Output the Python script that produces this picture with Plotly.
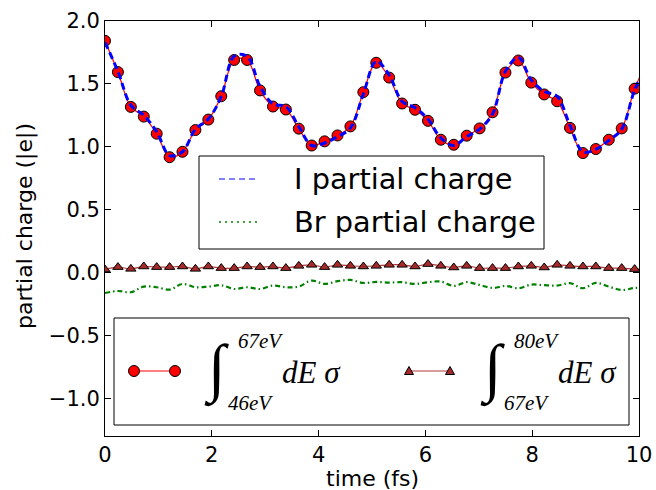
import plotly.graph_objects as go

# ---------------- data ----------------
time_fs = [0.000, 0.242, 0.484, 0.726, 0.968, 1.210, 1.451, 1.693, 1.935, 2.177,
           2.419, 2.661, 2.903, 3.145, 3.387, 3.629, 3.870, 4.112, 4.354, 4.596,
           4.838, 5.080, 5.322, 5.564, 5.806, 6.048, 6.289, 6.531, 6.773, 7.015,
           7.257, 7.499, 7.741, 7.983, 8.225, 8.467, 8.708, 8.950, 9.192, 9.434,
           9.676, 9.918, 10.160]

sigma_46_67 = [1.842, 1.594, 1.317, 1.240, 1.104, 0.917, 0.960, 1.133, 1.216, 1.402,
               1.690, 1.690, 1.448, 1.320, 1.296, 1.144, 1.010, 1.043, 1.090, 1.162,
               1.434, 1.668, 1.550, 1.344, 1.294, 1.206, 1.056, 1.016, 1.088, 1.146,
               1.274, 1.590, 1.686, 1.510, 1.416, 1.362, 1.150, 0.950, 0.982, 1.056,
               1.146, 1.462, 1.680]

i_partial = [1.830, 1.600, 1.330, 1.250, 1.120, 0.930, 0.960, 1.140, 1.220, 1.400,
             1.720, 1.720, 1.480, 1.340, 1.320, 1.160, 1.010, 1.030, 1.080, 1.150,
             1.420, 1.680, 1.570, 1.360, 1.310, 1.220, 1.070, 1.010, 1.080, 1.140,
             1.260, 1.600, 1.710, 1.530, 1.440, 1.400, 1.170, 0.960, 0.980, 1.050,
             1.140, 1.450, 1.660]

sigma_67_80 = [0.024, 0.043, 0.029, 0.048, 0.043, 0.043, 0.048, 0.029, 0.048, 0.035,
               0.035, 0.048, 0.043, 0.048, 0.035, 0.053, 0.061, 0.043, 0.061, 0.053,
               0.048, 0.053, 0.061, 0.061, 0.048, 0.067, 0.053, 0.040, 0.053, 0.035,
               0.035, 0.035, 0.048, 0.053, 0.040, 0.061, 0.053, 0.048, 0.048, 0.035,
               0.035, 0.027, 0.030]

br_partial = [-0.163, -0.147, -0.157, -0.112, -0.117, -0.136, -0.091, -0.117, -0.112, -0.101,
              -0.131, -0.117, -0.131, -0.104, -0.117, -0.112, -0.064, -0.091, -0.069, -0.059,
              -0.083, -0.075, -0.080, -0.077, -0.091, -0.077, -0.072, -0.107, -0.077, -0.099,
              -0.123, -0.107, -0.125, -0.096, -0.101, -0.104, -0.085, -0.125, -0.083, -0.112,
              -0.139, -0.123, -0.120]

x_ticks = [0, 2, 4, 6, 8, 10]
y_ticks = [-1.0, -0.5, 0.0, 0.5, 1.0, 1.5, 2.0]
y_ticklabels = ["\u22121.0", "\u22120.5", "0.0", "0.5", "1.0", "1.5", "2.0"]

# ---------------- layout geometry (pixels) ----------------
W, H = 656, 490
L, R, T, B = 105, 17, 21, 54
PW, PH = W - L - R, H - T - B


def px(x):
    return (x - L) / PW


def py(y):
    return (H - B - y) / PH


fig = go.Figure()

fig.add_trace(go.Scatter(
    x=time_fs, y=sigma_46_67, mode="lines+markers", line_shape="spline",
    line=dict(color="red", width=1.2),
    marker=dict(symbol="circle", size=11, color="red", line=dict(color="black", width=1)),
    showlegend=False, hoverinfo="skip"))

fig.add_trace(go.Scatter(
    x=time_fs, y=i_partial, mode="lines", line_shape="spline",
    line=dict(color="blue", width=3, dash="7px,4px"),
    showlegend=False, hoverinfo="skip"))

fig.add_trace(go.Scatter(
    x=time_fs, y=sigma_67_80, mode="lines+markers", line_shape="spline",
    line=dict(color="#b03a3a", width=1.2),
    marker=dict(symbol="triangle-up", size=9, color="#a52a2a", line=dict(color="black", width=1)),
    showlegend=False, hoverinfo="skip"))

fig.add_trace(go.Scatter(
    x=time_fs, y=br_partial, mode="lines", line_shape="spline",
    line=dict(color="green", width=2.2, dash="5px,3px,1.5px,3px"),
    showlegend=False, hoverinfo="skip"))

shapes = []
annotations = []

# ---- upper legend ----
shapes.append(dict(type="rect", xref="paper", yref="paper", layer="above",
                   x0=px(199), x1=px(544), y0=py(249), y1=py(156),
                   line=dict(color="black", width=1), fillcolor="white"))
shapes.append(dict(type="line", xref="paper", yref="paper", layer="above",
                   x0=px(219), x1=px(257), y0=py(179), y1=py(179),
                   line=dict(color="blue", width=1, dash="6px,4px")))
shapes.append(dict(type="line", xref="paper", yref="paper", layer="above",
                   x0=px(219), x1=px(257), y0=py(222), y1=py(222),
                   line=dict(color="green", width=1.3, dash="2px,4px")))
for label, yy in [("I partial charge", 179), ("Br partial charge", 222)]:
    annotations.append(dict(text=label, xref="paper", yref="paper", x=px(292), y=py(yy),
                            xanchor="left", yanchor="middle", showarrow=False,
                            font=dict(family="DejaVu Sans", size=28.8, color="black")))

# ---- lower legend ----
shapes.append(dict(type="rect", xref="paper", yref="paper", layer="above",
                   x0=px(114), x1=px(629), y0=py(425), y1=py(318),
                   line=dict(color="black", width=1), fillcolor="white"))
shapes.append(dict(type="line", xref="paper", yref="paper", layer="above",
                   x0=px(134), x1=px(175), y0=py(371), y1=py(371),
                   line=dict(color="red", width=1.2)))
for cx in (134, 175):
    shapes.append(dict(type="circle", xref="paper", yref="paper", layer="above",
                       xsizemode="pixel", ysizemode="pixel", xanchor=px(cx), yanchor=py(371),
                       x0=-5.5, x1=5.5, y0=-5.5, y1=5.5,
                       fillcolor="red", line=dict(color="black", width=1)))
shapes.append(dict(type="line", xref="paper", yref="paper", layer="above",
                   x0=px(409), x1=px(450), y0=py(371), y1=py(371),
                   line=dict(color="#b03a3a", width=1.2)))
for cx in (409, 450):
    shapes.append(dict(type="path", xref="paper", yref="paper", layer="above",
                       xsizemode="pixel", ysizemode="pixel", xanchor=px(cx), yanchor=py(371),
                       path="M -4.5,-3.5 L 4.5,-3.5 L 0,4.5 Z",
                       fillcolor="#a52a2a", line=dict(color="black", width=1)))

serif = "Liberation Serif"
for ix, upper, lower, dex in [(216, "67eV", "46eV", 311), (492, "80eV", "67eV", 587)]:
    annotations.append(dict(text="<i>\u222b</i>", xref="paper", yref="paper", x=px(ix), y=py(369),
                            xanchor="center", yanchor="middle", showarrow=False,
                            font=dict(family=serif, size=64, color="black")))
    annotations.append(dict(text="<i>" + upper + "</i>", xref="paper", yref="paper",
                            x=px(ix + 20), y=py(341), xanchor="left", yanchor="middle",
                            showarrow=False, font=dict(family=serif, size=21, color="black")))
    annotations.append(dict(text="<i>" + lower + "</i>", xref="paper", yref="paper",
                            x=px(ix + 10), y=py(403), xanchor="left", yanchor="middle",
                            showarrow=False, font=dict(family=serif, size=21, color="black")))
    annotations.append(dict(text="<i>dE \u03c3</i>", xref="paper", yref="paper",
                            x=px(dex), y=py(372), xanchor="center", yanchor="middle",
                            showarrow=False, font=dict(family=serif, size=31, color="black")))

# ---- axis titles ----
annotations.append(dict(text="partial charge (|e|)", xref="paper", yref="paper",
                        x=px(25), y=py(226), textangle=-90, xanchor="center", yanchor="middle",
                        showarrow=False, font=dict(family="DejaVu Sans", size=22, color="black")))
annotations.append(dict(text="time (fs)", xref="paper", yref="paper",
                        x=px(372), y=py(478), xanchor="center", yanchor="middle",
                        showarrow=False, font=dict(family="DejaVu Sans", size=22, color="black")))

axis_common = dict(showline=True, linecolor="black", linewidth=1, mirror="allticks",
                   ticks="inside", ticklen=6, tickcolor="black", tickwidth=1,
                   showgrid=False, zeroline=False, automargin=False,
                   tickfont=dict(family="DejaVu Sans", size=21, color="black"))

fig.update_layout(
    width=W, height=H, autosize=False,
    margin=dict(l=L, r=R, t=T, b=B, pad=0, autoexpand=False),
    paper_bgcolor="white", plot_bgcolor="white",
    xaxis=dict(range=[0, 10], tickmode="array", tickvals=x_ticks,
               ticktext=[str(v) for v in x_ticks], **axis_common),
    yaxis=dict(range=[-1.3, 2.0], tickmode="array", tickvals=y_ticks,
               ticktext=y_ticklabels, **axis_common),
    shapes=shapes, annotations=annotations, showlegend=False,
)

fig.write_html("out.html",
               post_script="document.body.style.margin='0';document.body.style.overflow='hidden';")
